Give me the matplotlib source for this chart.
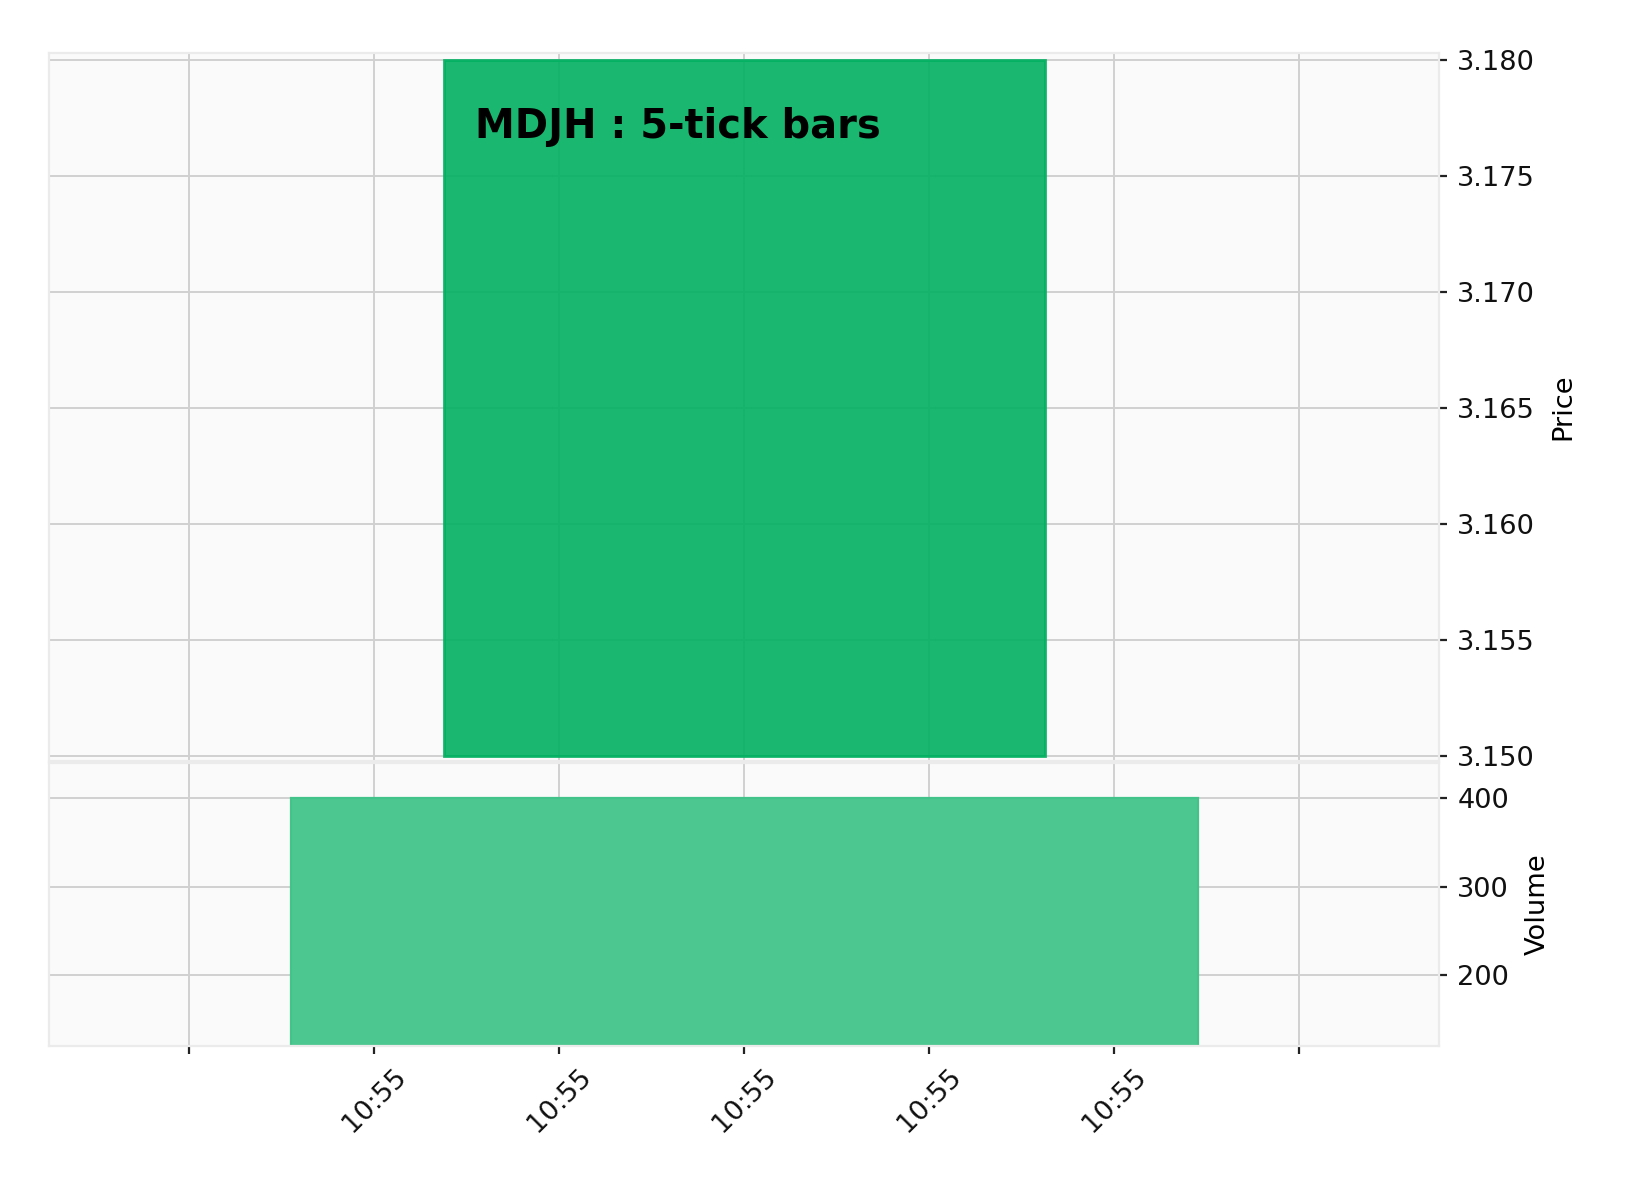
import numpy as np
import matplotlib
matplotlib.use('Agg')
from matplotlib import pyplot as plt

# one 5-tick bar
tick_labels = ['', '10:55', '10:55', '10:55', '10:55', '10:55', '']
bar_x = [3]
open_ = [3.150]
high = [3.180]
low = [3.150]
close = [3.180]
volume = [400]

price_ticks = [3.150, 3.155, 3.160, 3.165, 3.170, 3.175, 3.180]
volume_ticks = [200, 300, 400]

bg = '#fafafa'
grid_c = '#d0d0d0'
up_c = '#00b060'
vol_c = '#4dc790'

fig = plt.figure(figsize=(8.13, 5.96), dpi=200)
ax_p = fig.add_axes([0.0303, 0.3616, 0.8549, 0.5937])
ax_v = fig.add_axes([0.0303, 0.1227, 0.8549, 0.2374], sharex=ax_p)

for ax in (ax_p, ax_v):
    ax.set_facecolor(bg)
    ax.set_axisbelow(True)
    ax.grid(True, color=grid_c, linewidth=0.7, linestyle='-')
    for s in ax.spines.values():
        s.set_color('#ebebeb')
        s.set_linewidth(0.8)
    ax.yaxis.tick_right()
    ax.yaxis.set_label_position('right')
    ax.tick_params(axis='both', length=3, width=0.8, color='#222222',
                   labelsize=9.8, labelcolor='#111111')

# candle: wicks only outside the body, then the body
o, c = np.array(open_), np.array(close)
top, bot = np.maximum(o, c), np.minimum(o, c)
ax_p.vlines(bar_x, top, high, color=up_c, linewidth=1, alpha=0.9)
ax_p.vlines(bar_x, low, bot, color=up_c, linewidth=1, alpha=0.9)
ax_p.bar(bar_x, c - o, bottom=o, width=3.25, color=up_c, edgecolor=up_c,
         linewidth=1, alpha=0.9)
ax_p.set_yticks(price_ticks)
ax_p.set_yticklabels(['%.3f' % v for v in price_ticks])
ax_p.set_ylim(3.14977, 3.18029)
ax_p.set_ylabel('Price', fontsize=9.8, labelpad=5.5)
ax_p.tick_params(axis='x', which='both', bottom=False, labelbottom=False)

ax_v.bar(bar_x, volume, width=4.9, color=vol_c, edgecolor='#42c389', linewidth=0.8)
ax_v.set_ylim(0.3 * max(volume), 1.1 * max(volume))
ax_v.set_yticks(volume_ticks)
ax_v.set_ylabel('Volume', fontsize=9.8, labelpad=5.5)

ax_v.set_xticks(np.arange(len(tick_labels)))
ax_v.set_xticklabels(tick_labels, rotation=45)
ax_v.set_xlim(3 - 3.757, 3 + 3.757)

fig.text(0.2921, 0.8842, 'MDJH : 5-tick bars', fontsize=14.4, fontweight='bold',
         ha='left', va='baseline')

fig.savefig('out.png', dpi=200)
